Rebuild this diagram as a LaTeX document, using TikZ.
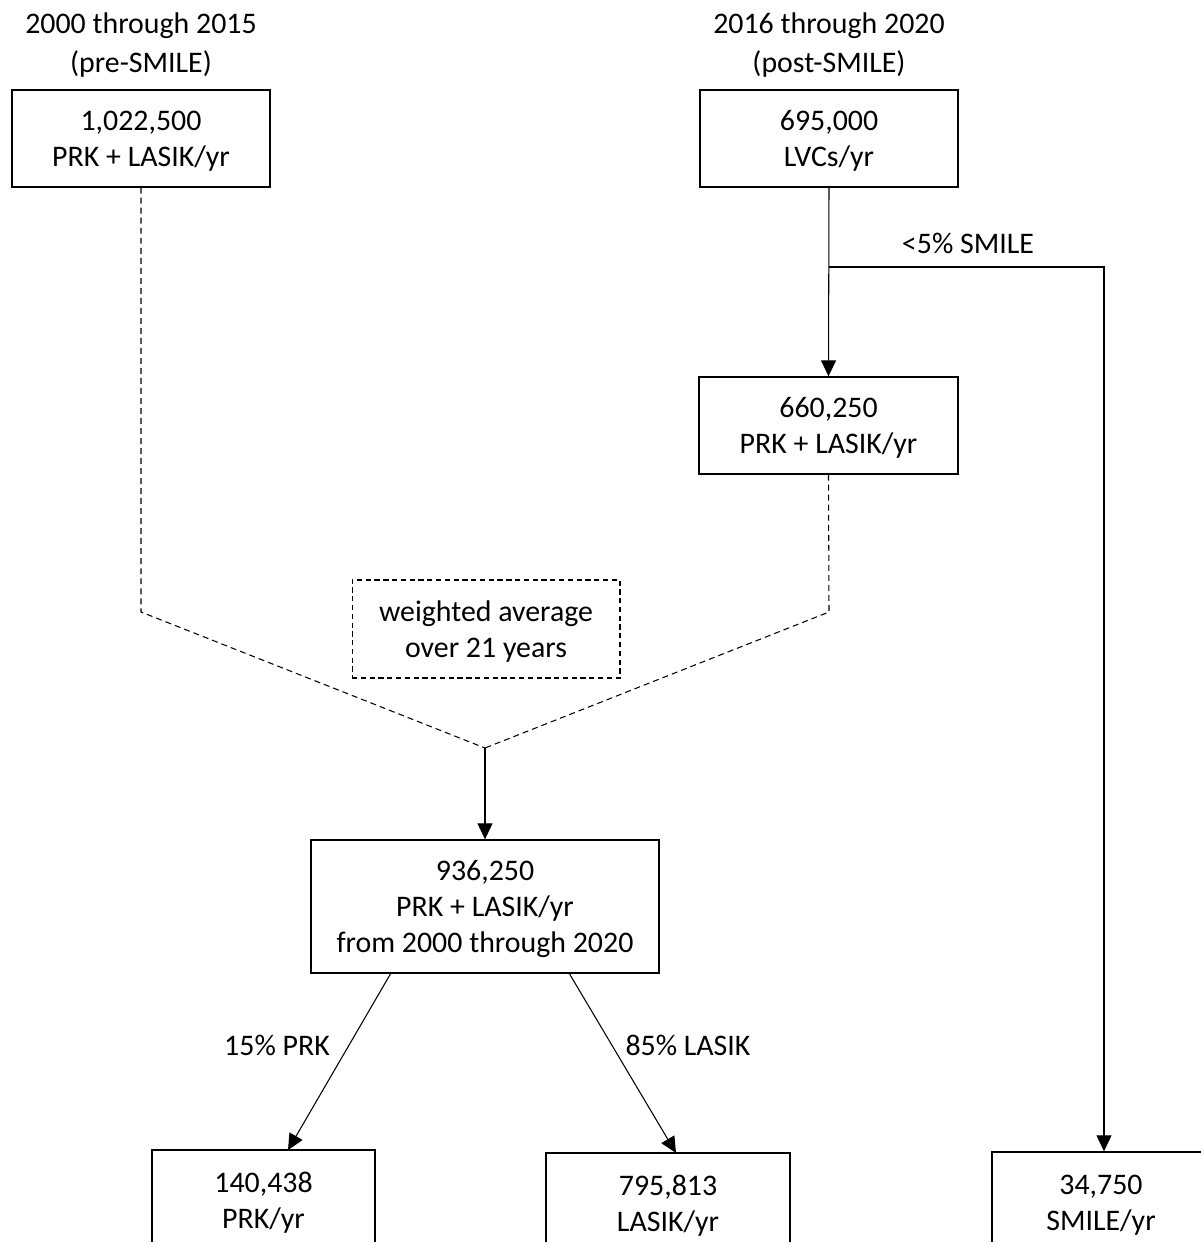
\documentclass[tikz,border=0pt]{standalone}
\usepackage{fontspec}
\setmainfont{Carlito}
\usetikzlibrary{arrows.meta}
\begin{document}
\begin{tikzpicture}[x=0.02cm,y=-0.02cm,
  every node/.style={font=\fontsize{17}{20.5}\selectfont},
  box/.style={draw, line width=0.8pt, align=center, inner sep=0pt},
  dbox/.style={box, line width=0.6pt, dash pattern=on 3pt off 2pt},
  conn/.style={line width=0.6pt},
  arr/.style={conn, -{Triangle[length=0.32cm,width=0.3cm]}},
  dconn/.style={conn, dash pattern=on 3.4pt off 2.3pt},
  lab/.style={inner sep=0pt, align=center}]
\useasboundingbox (0,0) rectangle (1201,1242);
\clip (0,0) rectangle (1201,1242);
% headers
\node[lab] (h1) at (141,45) {2000 through 2015\\[2pt](pre-SMILE)};
\node[lab] (h2) at (829,45) {2016 through 2020\\[2pt](post-SMILE)};
% boxes
\node[box, minimum width=5.16cm, minimum height=1.94cm] (a) at (141,138.5) {\strut 1,022,500\\PRK + LASIK/yr};
\node[box, minimum width=5.16cm, minimum height=1.94cm] (b) at (829,138.5) {\strut 695,000\\LVCs/yr};
\node[box, minimum width=5.18cm, minimum height=1.94cm] (c) at (828.5,425.5) {\strut 660,250\\PRK + LASIK/yr};
\node[dbox, minimum width=5.36cm, minimum height=1.96cm] (d) at (486,629) {\strut weighted average\\over 21 years};
\node[box, minimum width=6.96cm, minimum height=2.66cm] (e) at (485,906.5) {\strut 936,250\\PRK + LASIK/yr\\from 2000 through 2020};
\node[box, minimum width=4.46cm, minimum height=2cm] (f) at (263.5,1200) {\strut 140,438\\PRK/yr};
\node[box, minimum width=4.88cm, minimum height=2cm] (g) at (668,1203) {\strut 795,813\\LASIK/yr};
\node[box, minimum width=4.36cm, minimum height=2cm] (h) at (1101,1202) {\strut 34,750\\SMILE/yr};
% coordinates
\coordinate (br) at (829,267);
\coordinate (brr) at (1104,267);
\coordinate (la) at (141,612);
\coordinate (lc) at (829,612);
\coordinate (m) at (485,748);
% connectors
\draw[arr] (b.south) -- (c.north);
\draw[arr] (br) -- (brr) -- (brr |- h.north);
\node[lab] (sl) at (968,243) {<5\% SMILE};
\draw[dconn] (a.south) -- (la) -- (m);
\draw[dconn] (c.south) -- (lc) -- (m);
\draw[arr] (m) -- (e.north);
\draw[arr] (391,973) -- (288,1150);
\draw[arr] (569,973) -- (676,1153);
\node[lab] (l1) at (277,1045) {15\% PRK};
\node[lab] (l2) at (688,1045) {85\% LASIK};
\end{tikzpicture}
\end{document}
